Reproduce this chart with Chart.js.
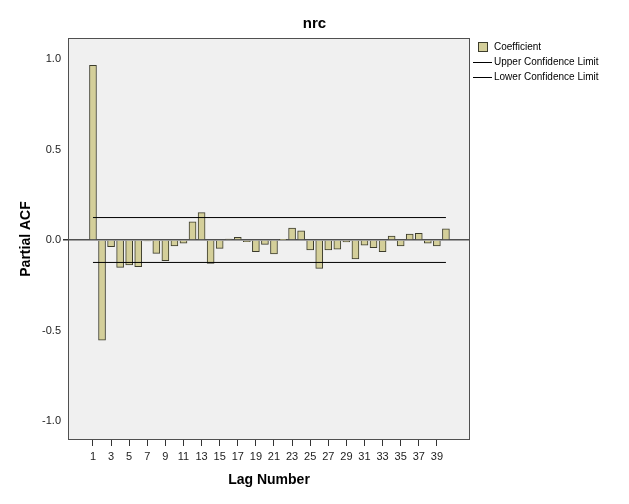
<!DOCTYPE html>
<html>
<head>
<meta charset="utf-8">
<script src="https://cdn.jsdelivr.net/npm/chart.js@4"></script>
<style>
  body { margin: 0; background: #fff; }
  #wrap { position: relative; width: 629px; height: 504px; font-family: "Liberation Sans", Arial, sans-serif; }
  #title { position: absolute; left: 0; width: 629px; top: 14px; text-align: center; font-weight: bold; font-size: 15px; color: #000; }
  #legend { position: absolute; left: 473px; top: 39px; font-size: 10px; color: #000; }
  .item { position: relative; height: 15px; line-height: 15px; padding-left: 21px; }
  .box { position: absolute; left: 5px; top: 3px; width: 8px; height: 8px; background: #d4cf9a; border: 1px solid #3c3c2c; }
  .line { position: absolute; left: 0; top: 8px; width: 19px; height: 1px; background: #000; }
</style>
</head>
<body>
<div id="wrap">
  <canvas id="chart" width="629" height="504"></canvas>
  <div id="title">nrc</div>
  <div id="legend">
    <div class="item"><span class="box"></span>Coefficient</div>
    <div class="item"><span class="line"></span>Upper Confidence Limit</div>
    <div class="item"><span class="line"></span>Lower Confidence Limit</div>
  </div>
</div>
<script>
const lags = [1,2,3,4,5,6,7,8,9,10,11,12,13,14,15,16,17,18,19,20,
              21,22,23,24,25,26,27,28,29,30,31,32,33,34,35,36,37,38,39,40];
const pacf = [0.965,-0.553,-0.037,-0.151,-0.138,-0.147,-0.005,-0.074,-0.114,-0.033,
              -0.018,0.101,0.151,-0.129,-0.046,0.005,0.015,-0.009,-0.064,-0.024,
              -0.077,0.002,0.066,0.050,-0.055,-0.157,-0.055,-0.050,-0.010,-0.105,
              -0.028,-0.042,-0.064,0.022,-0.033,0.033,0.037,-0.018,-0.033,0.061];
const upperLimit = [0.124, 0.124];
const lowerLimit = [-0.124, -0.124];
const limitLags = [1, 40];
const xTicks = [1,3,5,7,9,11,13,15,17,19,21,23,25,27,29,31,33,35,37,39];
const yTicks = [-1.0, -0.5, 0.0, 0.5, 1.0];

const plotBg = {
  id: 'plotBg',
  beforeDraw(c) {
    const a = c.chartArea, ctx = c.ctx;
    ctx.save();
    ctx.fillStyle = '#f0f0f0';
    ctx.fillRect(a.left, a.top, a.right - a.left, a.bottom - a.top);
    ctx.restore();
  },
  afterDraw(c) {
    const a = c.chartArea, ctx = c.ctx;
    ctx.save();
    ctx.strokeStyle = '#505050';
    ctx.lineWidth = 1;
    ctx.strokeRect(a.left + 0.5, a.top + 0.5, a.right - a.left - 1, a.bottom - a.top - 1);
    ctx.restore();
  }
};

const font = { family: '"Liberation Sans", Arial, sans-serif', size: 11 };

new Chart(document.getElementById('chart'), {
  type: 'bar',
  data: {
    datasets: [{
      label: 'Coefficient',
      data: lags.map((l, i) => ({ x: l, y: pacf[i] })),
      backgroundColor: '#d4cf9a',
      borderColor: '#3c3c2c',
      borderWidth: 1,
      barThickness: 7,
      order: 2
    }, {
      type: 'line',
      label: 'Upper Confidence Limit',
      data: limitLags.map((l, i) => ({ x: l, y: upperLimit[i] })),
      borderColor: '#000',
      borderWidth: 1,
      pointRadius: 0,
      order: 1
    }, {
      type: 'line',
      label: 'Lower Confidence Limit',
      data: limitLags.map((l, i) => ({ x: l, y: lowerLimit[i] })),
      borderColor: '#000',
      borderWidth: 1,
      pointRadius: 0,
      order: 1
    }]
  },
  options: {
    responsive: false,
    animation: false,
    layout: { padding: { left: 14, right: 159, top: 38, bottom: 10 } },
    plugins: {
      legend: { display: false },
      tooltip: { enabled: false }
    },
    scales: {
      x: {
        type: 'linear',
        offset: false,
        min: -1.76,
        max: 42.66,
        afterBuildTicks: s => { s.ticks = xTicks.map(v => ({ value: v })); },
        afterFit: s => { s.height = 54; },
        grid: { offset: false, drawOnChartArea: false, tickLength: 6, tickColor: '#333' },
        border: { display: false },
        ticks: { font, color: '#222', padding: 4, maxRotation: 0, autoSkip: false },
        title: {
          display: true, text: 'Lag Number', color: '#000',
          font: { family: font.family, size: 14, weight: 'bold' },
          padding: { top: 4, bottom: 5 }
        }
      },
      y: {
        min: -1.105,
        max: 1.116,
        afterBuildTicks: s => { s.ticks = yTicks.map(v => ({ value: v })); },
        afterFit: s => { s.width = 54; },
        grid: {
          color: c => (c.tick && c.tick.value === 0 ? '#505050' : 'transparent'),
          lineWidth: c => (c.tick && c.tick.value === 0 ? 1.5 : 0),
          tickLength: 5,
          tickColor: '#333'
        },
        border: { display: false },
        ticks: { font, color: '#222', padding: 2, callback: v => v.toFixed(1) },
        title: {
          display: true, text: 'Partial ACF', color: '#000',
          font: { family: font.family, size: 14, weight: 'bold' },
          padding: { top: 4, bottom: 4 }
        }
      }
    }
  },
  plugins: [plotBg]
});
</script>
</body>
</html>
